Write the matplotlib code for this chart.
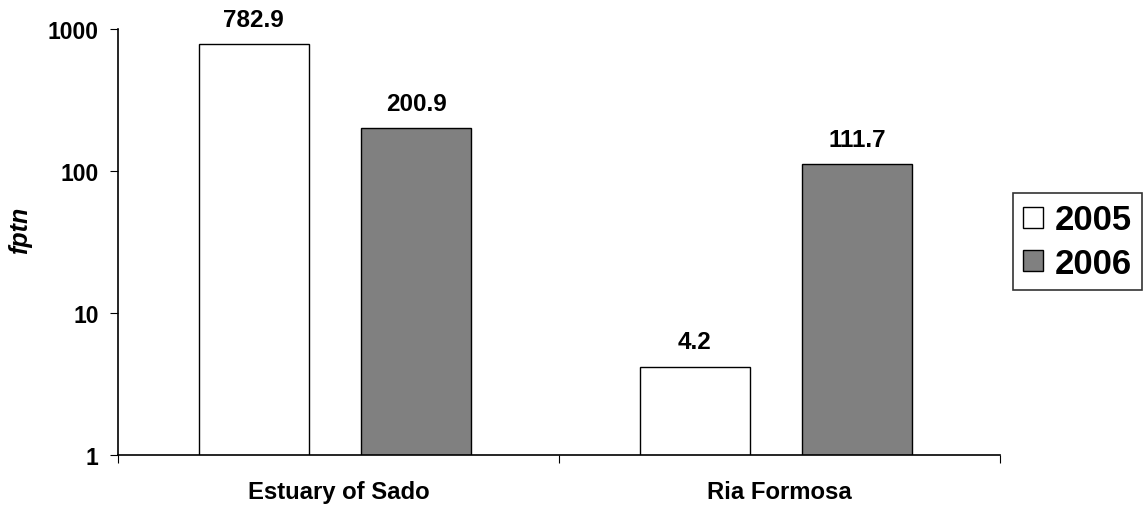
import numpy as np
import matplotlib.pyplot as plt

plt.rcParams['font.family'] = ['Liberation Sans', 'DejaVu Sans']

# fptn per site and year
sites = ["Estuary of Sado", "Ria Formosa"]
years = ["2005", "2006"]
fptn_2005 = [782.9, 4.2]
fptn_2006 = [200.9, 111.7]

fig = plt.figure(figsize=(11.47, 5.06), dpi=100)
ax = fig.add_axes([0.1029, 0.0988, 0.7689, 0.8419])

x = np.arange(len(sites))
width = 0.25

b1 = ax.bar(x - 0.192, fptn_2005, width, color="white", edgecolor="black",
            linewidth=1.0, label=years[0])
b2 = ax.bar(x + 0.176, fptn_2006, width, color="#808080", edgecolor="black",
            linewidth=1.0, label=years[1])

for bars, vals in [(b1, fptn_2005), (b2, fptn_2006)]:
    for bar, v in zip(bars, vals):
        ax.annotate(f"{v:.1f}", (bar.get_x() + bar.get_width() / 2, v),
                    xytext=(0, 9.5), textcoords="offset points",
                    ha="center", va="bottom", fontsize=17.5, fontweight="bold")

ax.set_yscale("log")
ax.set_ylim(1, 1000)
ax.set_yticks([1, 10, 100, 1000])
ax.set_yticklabels(["1", "10", "100", "1000"])
ax.minorticks_off()
ax.set_xlim(-0.5, 1.5)

# category labels between boundary ticks
ax.set_xticks([-0.5, 0.5, 1.5])
ax.set_xticklabels([])
ax.set_xticks(x, minor=True)
ax.set_xticklabels(sites, minor=True)
ax.tick_params(axis="x", which="minor", length=0, pad=18)
ax.tick_params(axis="x", which="major", length=6, direction="out")
ax.tick_params(axis="y", length=6, direction="out", pad=8)
for lab in ax.get_yticklabels():
    lab.set_fontsize(16.5)
    lab.set_fontweight("bold")
for lab in ax.get_xticklabels(minor=True):
    lab.set_fontsize(17.2)
    lab.set_fontweight("bold")

ax.set_ylabel("fptn", fontsize=18, fontweight="bold", fontstyle="italic")
ax.yaxis.set_label_coords(-0.097, 0.53)

ax.spines["top"].set_visible(False)
ax.spines["right"].set_visible(False)
ax.spines["left"].set_linewidth(1.2)
ax.spines["bottom"].set_linewidth(1.2)

leg = ax.legend(loc="center left", bbox_to_anchor=(1.0, 0.501),
                frameon=True, fancybox=False, edgecolor="black",
                prop={"size": 25, "weight": "bold"},
                handlelength=0.56, handleheight=0.56, handletextpad=0.34,
                borderpad=0.3, labelspacing=0.3, borderaxespad=0.37)
leg.get_frame().set_linewidth(1.2)

fig.savefig("out.png", dpi=100)
